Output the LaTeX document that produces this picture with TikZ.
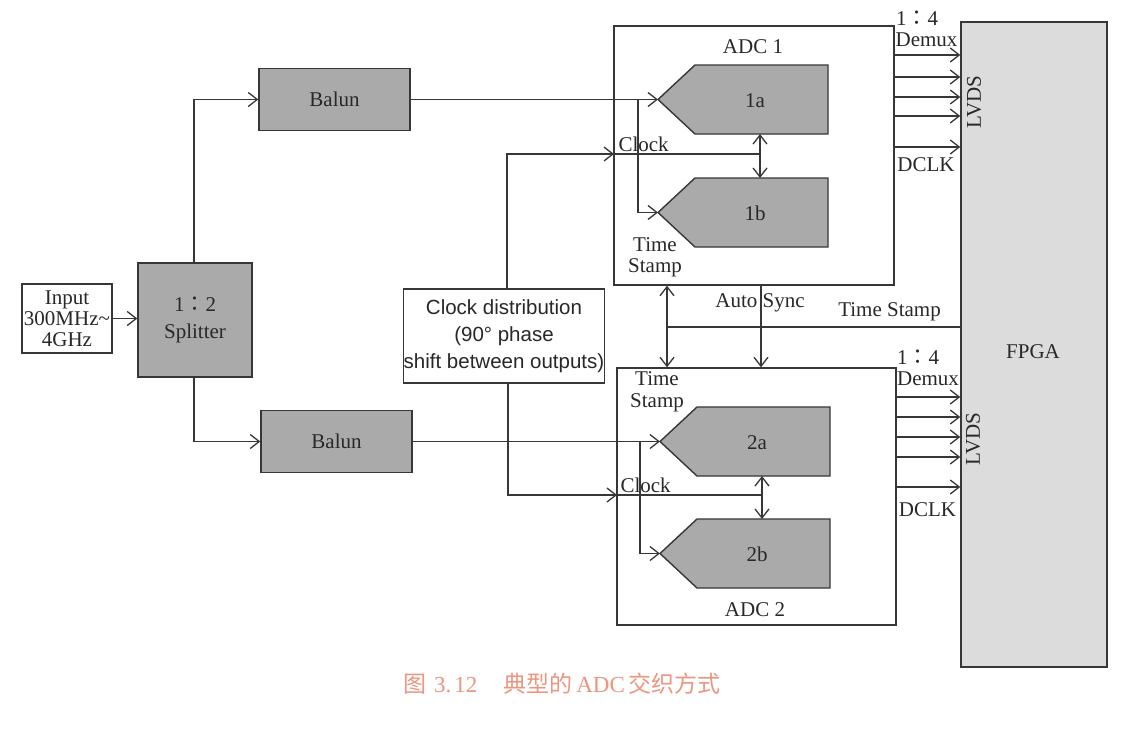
\documentclass[tikz,border=0pt]{standalone}
\usepackage{fontspec}
\setmainfont{Liberation Serif}
\newfontfamily\sansf{Liberation Sans}
\newfontfamily\cjk{Noto Sans CJK SC}
\newfontfamily\cjkjp{Noto Sans CJK JP}
\usetikzlibrary{arrows.meta,calc}
\definecolor{linecol}{RGB}{55,55,55}
\definecolor{blkgray}{RGB}{170,170,170}
\definecolor{fpgagray}{RGB}{220,220,220}
\definecolor{capcol}{RGB}{236,150,128}
\definecolor{txtcol}{RGB}{40,40,40}
\tikzset{
  every node/.style={font=\fontsize{21}{24}\selectfont, text=txtcol},
  ln/.style={draw=linecol, line width=1.4pt},
  arr/.style={ln, -{Straight Barb[length=9pt,width=14pt,line width=1.3pt]}},
  darr/.style={ln, {Straight Barb[length=9pt,width=14pt,line width=1.3pt]}-{Straight Barb[length=9pt,width=14pt,line width=1.3pt]}},
  wbox/.style={ln, fill=white, rectangle, inner sep=0pt},
  gbox/.style={ln, fill=blkgray, rectangle, inner sep=0pt},
  fbox/.style={ln, fill=fpgagray, rectangle, inner sep=0pt},
}
\newcommand{\adcblock}[4]{%
  \draw[ln, fill=blkgray] (#2,#3) -- ++(37,-34.5) -- ++(133,0) -- ++(0,69) -- ++(-133,0) -- cycle;
  \coordinate (#1tip) at (#2,#3);
  \coordinate (#1top) at ($(#2,#3)+(102,-34.5)$);
  \coordinate (#1bot) at ($(#2,#3)+(102,34.5)$);
  \node (#1) at ($(#2,#3)+(97,1)$) {#4};}
\begin{document}
\begin{tikzpicture}[x=1pt,y=-1pt]
\fill[white] (0,0) rectangle (1128,739);
\useasboundingbox (0,0) rectangle (1128,739);

% main boxes
\node[wbox, minimum width=90, minimum height=69, align=center, font=\fontsize{21}{21}\selectfont] (inp) at (67,318.5) {Input\\300MHz\textasciitilde\\4GHz};
\node[gbox, minimum width=114, minimum height=114, align=center, font=\fontsize{21}{27}\selectfont] (spl) at (195,320) {1{\cjkjp ：}2\\Splitter};
\node[gbox, minimum width=151, minimum height=62] (bal1) at (334.5,99.5) {Balun};
\node[gbox, minimum width=151, minimum height=62] (bal2) at (336.5,441.5) {Balun};
\node[wbox, minimum width=200, minimum height=94, align=center, font=\sansf\fontsize{20.5}{27}\selectfont] (cd) at (504,336) {Clock distribution\\(90° phase\\shift between outputs)};
\node[wbox, minimum width=280, minimum height=259] (adc1) at (754,155.5) {};
\node[wbox, minimum width=279, minimum height=257] (adc2) at (756.5,496.5) {};
\node[fbox, minimum width=146, minimum height=645] (fpga) at (1034,344.5) {};

% converter cores
\adcblock{blkA}{658}{99.5}{1a}
\adcblock{blkB}{658}{212.5}{1b}
\adcblock{blkC}{660}{441.5}{2a}
\adcblock{blkD}{660}{553.5}{2b}

% labels
\node (l1) at (753,47) {ADC 1};
\node (l2) at (755,610) {ADC 2};
\node (fl) at (1033,352) {FPGA};
\node[rotate=90] (lv1) at (974,102) {LVDS};
\node[rotate=90] (lv2) at (973,439) {LVDS};
\node[anchor=west] (ck1) at (615,144) {Clock};
\node[anchor=west] (ck2) at (617,485) {Clock};
\node[align=center, font=\fontsize{21}{21}\selectfont] (ts1) at (655,257) {Time\\Stamp};
\node[align=center, font=\fontsize{21}{22}\selectfont] (ts2) at (657,391.5) {Time\\Stamp};
\node (as) at (760,303) {Auto Sync};
\node (tsl) at (889.5,312) {Time Stamp};
\node (r1) at (917,18) {1{\cjkjp ：}4};
\node (d1) at (926.5,40) {Demux};
\node (k1) at (926,165) {DCLK};
\node (r2) at (918,357) {1{\cjkjp ：}4};
\node (d2) at (928,379) {Demux};
\node (k2) at (927.5,510) {DCLK};

% signal path
\draw[arr] (inp.east) -- (inp.east -| spl.west);
\draw[arr] ([xshift=-1]spl.north) |- (bal1.west);
\draw[arr] ([xshift=-1]spl.south) |- (bal2.west);
\draw[arr] (bal1.east) -- (blkAtip);
\draw[arr] (bal2.east) -- (blkCtip);
\coordinate (brA) at (638,99.5);
\coordinate (brC) at (640,441.5);
\draw[arr] (brA) |- (blkBtip);
\draw[arr] (brC) |- (blkDtip);

% clocks
\coordinate (c1in) at (614,154);
\coordinate (c1j) at (760,154);
\coordinate (c2in) at (617,495);
\coordinate (c2j) at (762,495);
\draw[arr] ([xshift=3]cd.north) |- (c1in);
\draw[ln] (c1in) -- (c1j);
\draw[arr] ([xshift=4]cd.south) |- (c2in);
\draw[ln] (c2in) -- (c2j);
\draw[darr] (blkAbot) -- (blkBtop);
\draw[darr] (blkCbot) -- (blkDtop);

% sync and time stamp
\draw[darr] (adc1.south -| 667,0) -- (adc2.north -| 667,0);
\coordinate (tsj) at (667,327);
\draw[ln] (tsj) -- (fpga.west |- tsj);
\draw[arr] (adc1.south -| 761,0) -- (adc2.north -| 761,0);

% data outputs
\foreach \yy in {55,77,97,116,147} \draw[arr] (adc1.east |- 0,\yy) -- (fpga.west |- 0,\yy);
\foreach \yy in {397,417,437,457,487} \draw[arr] (adc2.east |- 0,\yy) -- (fpga.west |- 0,\yy);

% caption
\node[text=capcol, font=\fontsize{23}{23}\selectfont] (cap) at (562,684) {{\cjk 图}\hspace{8pt}3.\hspace{3pt}12\hspace{26pt}{\cjk 典型的}\hspace{4pt}ADC\hspace{4pt}{\cjk 交织方式}};
\end{tikzpicture}
\end{document}
